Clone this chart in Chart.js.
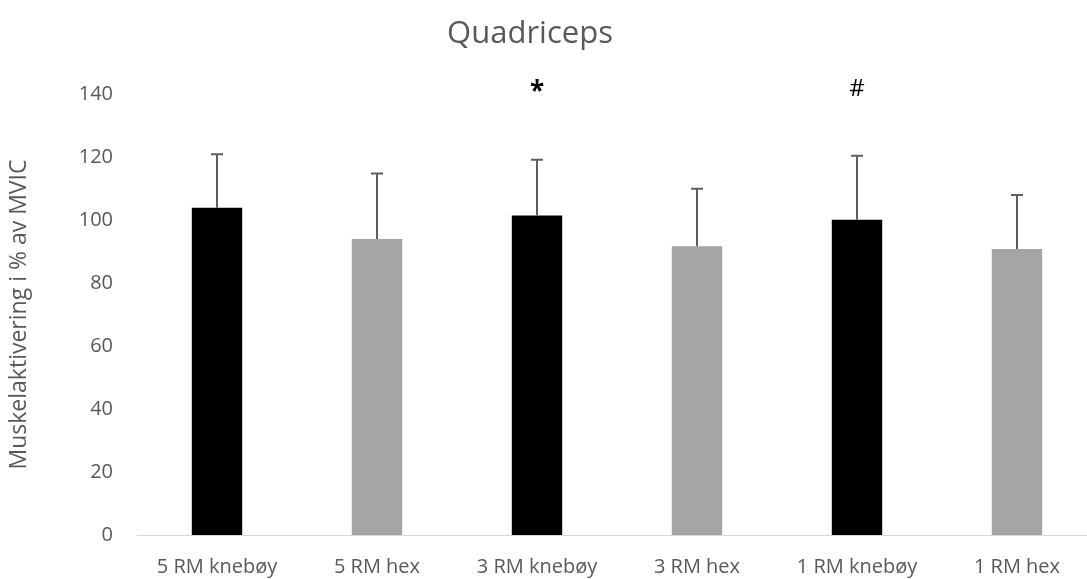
<!DOCTYPE html>
<html>
<head>
<meta charset="utf-8">
<script src="https://cdn.jsdelivr.net/npm/chart.js@4/dist/chart.umd.min.js"></script>
<style>
  html, body { margin: 0; padding: 0; background: #fff; overflow: hidden; }
  #wrap { width: 1100px; height: 579px; }
</style>
</head>
<body>
<div id="wrap"><canvas id="chart"></canvas></div>
<script>
const categories = ["5 RM knebøy", "5 RM hex", "3 RM knebøy", "3 RM hex", "1 RM knebøy", "1 RM hex"];
const means = [103.9, 94.0, 101.4, 91.7, 100.1, 90.8];
const sds = [17.0, 20.8, 17.7, 18.2, 20.3, 17.1];
const barColors = ["#000000", "#A5A5A5", "#000000", "#A5A5A5", "#000000", "#A5A5A5"];
const markers = ["", "", "*", "", "#", ""];
const markerValue = 141.6;
const yTicks = [0, 20, 40, 60, 80, 100, 120, 140];

const FONT = "'Open Sans', Lato, sans-serif";
const GREY = "#595959";

// error bars (upper only) + significance marks + title
const extras = {
  id: "extras",
  afterDatasetsDraw(chart) {
    const ctx = chart.ctx;
    const meta = chart.getDatasetMeta(0);
    const y = chart.scales.y;
    ctx.save();
    ctx.strokeStyle = "#5f5f5f";
    ctx.lineWidth = 2;
    meta.data.forEach((bar, i) => {
      const top = y.getPixelForValue(means[i] + sds[i]);
      ctx.beginPath();
      ctx.moveTo(bar.x, bar.y);
      ctx.lineTo(bar.x, top);
      ctx.moveTo(bar.x - 6, top);
      ctx.lineTo(bar.x + 6, top);
      ctx.stroke();
    });
    ctx.fillStyle = "#000";
    ctx.textAlign = "center";
    ctx.textBaseline = "middle";
    meta.data.forEach((bar, i) => {
      if (!markers[i]) return;
      ctx.font = (markers[i] === "*" ? "bold 26px " : "24px ") + FONT;
      ctx.fillText(markers[i], bar.x, y.getPixelForValue(markerValue) + (markers[i] === "*" ? 4 : 0));
    });
    ctx.fillStyle = GREY;
    ctx.font = "31px " + FONT;
    ctx.fillText("Quadriceps", 530, 34);
    ctx.restore();
  }
};

new Chart(document.getElementById("chart"), {
  type: "bar",
  data: {
    labels: categories,
    datasets: [{
      data: means,
      backgroundColor: barColors,
      borderWidth: 0,
      categoryPercentage: 1,
      barPercentage: 0.315
    }]
  },
  options: {
    responsive: true,
    maintainAspectRatio: false,
    animation: false,
    layout: { padding: { top: 94, right: 3, left: 0, bottom: 0 } },
    plugins: {
      legend: { display: false },
      tooltip: { enabled: false },
      title: { display: false }
    },
    scales: {
      x: {
        grid: { display: false },
        border: { display: true, color: "#d9d9d9", width: 1 },
        ticks: { color: GREY, font: { family: FONT, size: 20 }, padding: 12, maxRotation: 0 },
        afterFit(s) { s.height = 44; }
      },
      y: {
        min: 0,
        max: 140,
        afterBuildTicks(s) { s.ticks = yTicks.map(v => ({ value: v })); },
        grid: { display: false },
        border: { display: false },
        ticks: { color: GREY, font: { family: FONT, size: 20 }, padding: 16 },
        title: {
          display: true,
          text: "Muskelaktivering i % av MVIC",
          color: GREY,
          font: { family: FONT, size: 23 },
          padding: { top: 6, bottom: 0 }
        },
        afterFit(s) { s.width = 137; }
      }
    }
  },
  plugins: [extras]
});
</script>
</body>
</html>
